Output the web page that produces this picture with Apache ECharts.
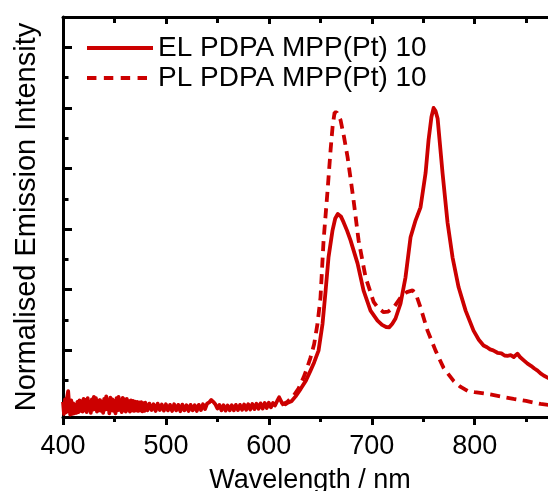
<!DOCTYPE html>
<html>
<head>
<meta charset="utf-8">
<script src="https://cdn.jsdelivr.net/npm/echarts@6/dist/echarts.min.js"></script>
<style>
html,body{margin:0;padding:0;background:#fff;}
#chart{width:548px;height:491px;}
</style>
</head>
<body>
<div id="chart"></div>
<script>
const elWavelength = [400,401,402,403,404,405,406,407,408,409,410,411,412,413,414,415,416,417,418,419,420,421,422,423,424,425,426,427,428,429,430,431,432,433,434,435,436,437,438,439,440,441,442,443,444,445,446,447,448,449,450,451,452,453,454,455,456,457,458,459,460,461,462,463,464,465,466,467,468,469,470,471,472,473,474,475,476,477,478,479,480,482,484,486,488,490,492,494,496,498,500,502,504,506,508,510,512,514,516,518,520,522,524,526,528,530,532,534,536,538,540,542,544,546,548,550,552,554,556,558,560,562,564,566,568,570,572,574,576,578,580,582,584,586,588,590,592,594,596,598,600,602,604,606,608,610,611,613,616,619,622,626,631,636,640.5,644,648.3,652.2,655.2,658,661.9,664.5,667,670,672.6,676,679.4,686.2,692,698.8,705.6,710,714,717,720,723.1,728,732.8,737.7,742.6,747.4,752.3,755.2,758,760.1,762,764,768.8,773.7,778.5,784.4,791.2,798.9,804,808.6,812,815,818,822.2,826,829,831.9,835,838,841.6,844,848,851.4,855,858,861.1,864,867,870.8,875,880];
const elIntensity = [
  0.03,-0.01,0.038,-0.005,0.045,0.065,0.02,-0.012,0.035,-0.01,
  0.025,-0.008,0.02,-0.006,0.03,-0.004,0.035,0.0,0.032,-0.002,
  0.04,0.002,0.036,-0.004,0.042,0.004,0.03,-0.006,0.038,0.004,
  0.046,0.006,0.042,-0.002,0.034,0.002,0.036,0.0,0.03,-0.006,
  0.04,0.004,0.048,0.006,0.036,-0.008,0.044,0.002,0.038,0.0,
  0.032,-0.008,0.042,0.002,0.046,0.004,0.036,-0.004,0.043,0.002,
  0.038,-0.002,0.04,0.004,0.032,-0.002,0.035,0.002,0.033,0.0,
  0.031,0.002,0.03,0.0,0.028,0.002,0.029,-0.001,0.026,0.0,
  0.027,
  0.002,0.024,0.003,0.022,0.0,0.024,0.003,0.021,0.001,0.022,
  0.002,0.02,0.0,0.022,0.002,0.02,-0.001,0.021,0.002,0.019,
  0.0,0.02,0.002,0.019,0.0,0.02,0.003,0.022,0.006,0.024,
  0.028,0.036,0.03,0.022,0.008,0.02,0.002,0.019,0.001,0.018,
  0.002,0.019,0.002,0.02,0.003,0.02,0.004,0.021,0.004,0.022,
  0.005,0.023,0.006,0.024,0.007,0.025,0.008,0.026,0.01,0.027,
  0.012,0.026,0.018,0.032,0.045,
  0.05,0.025,0.022,0.028,0.032,0.048,0.073,0.1,0.133,0.16,0.199,0.288,0.398,0.507,0.596,0.635,0.65,0.642,0.623,0.595,0.563,0.487,0.398,0.331,0.298,0.284,0.277,0.276,0.288,0.305,0.355,0.441,0.573,0.629,0.672,0.785,0.894,0.97,1.0,0.99,0.965,0.785,0.62,0.507,0.408,0.331,0.265,0.235,0.216,0.21,0.203,0.2,0.192,0.19,0.183,0.182,0.184,0.178,0.189,0.178,0.166,0.156,0.148,0.14,0.133,0.124,0.117,0.11,0.102,0.094];

const plWavelength = [612,618,624,629,633.7,637,640.5,644,647.3,650.2,653.2,657.1,660,662,663.9,666,669.7,673,676.5,682.3,687.2,694,701.8,706,711.5,716,721.2,728,734,739.7,743,747.4,754.2,762,769.8,779.5,786,793.1,800,812.5,825,837.8,850,864,872,880];
const plIntensity = [0.02,0.03,0.05,0.075,0.11,0.14,0.176,0.22,0.288,0.374,0.563,0.729,0.861,0.94,0.985,0.985,0.96,0.905,0.838,0.696,0.563,0.441,0.36,0.34,0.326,0.328,0.341,0.374,0.392,0.398,0.385,0.341,0.265,0.199,0.142,0.099,0.08,0.066,0.062,0.056,0.048,0.04,0.033,0.023,0.02,0.018];

const xMajorTicks = [400,500,600,700,800];
const xMinorTicks = [450,550,650,750,850];
const yMajorTicks = [0,0.2,0.4,0.6,0.8,1.0,1.2];
const yMinorTicks = [0.1,0.3,0.5,0.7,0.9,1.1];
const seriesNames = ['EL PDPA MPP(Pt) 10','PL PDPA MPP(Pt) 10'];

const RED = '#cc0000';
const FONT = 'Liberation Sans, Arial, sans-serif';

const chart = echarts.init(document.getElementById('chart'), null, {renderer:'canvas'});
const zip = (a,b) => a.map((v,i)=>[v,b[i]]);
const tickStyle = {color:'#000', width:3};

function xAx(position, showLine, ticks, len, inside, extra){
  return Object.assign({
    type:'value', min:400, max:880, position:position,
    splitLine:{show:false},
    axisLine:{show:showLine, onZero:false, lineStyle:{color:'#000', width:3}},
    axisTick:{show:true, inside:inside, length:len, customValues:ticks, lineStyle:tickStyle},
    axisLabel:{show:false}
  }, extra || {});
}
function yAx(showLine, ticks, len, extra){
  return Object.assign({
    type:'value', min:-0.02, max:1.3, position:'left',
    splitLine:{show:false},
    axisLine:{show:showLine, onZero:false, lineStyle:{color:'#000', width:3}},
    axisTick:{show:true, inside:true, length:len, customValues:ticks, lineStyle:tickStyle},
    axisLabel:{show:false}
  }, extra || {});
}

chart.setOption({
  animation:false,
  backgroundColor:'#fff',
  grid:{left:63, right:-9, top:17, bottom:74, containLabel:false, outerBoundsMode:'none'},
  legend:{
    orient:'vertical', left:87, top:34, padding:0, itemGap:2,
    itemWidth:66, itemHeight:4, symbolKeepAspect:false,
    itemStyle:{borderWidth:0, color:RED},
    textStyle:{fontSize:28, fontFamily:FONT, color:'#000', lineHeight:28},
    data:[
      {name:seriesNames[0], icon:'path://M0,0H65V4H0Z'},
      {name:seriesNames[1], icon:'path://M0,0H9.3V4H0Z M16.6,0H25.9V4H16.6Z M33.2,0H42.5V4H33.2Z M49.8,0H59.1V4H49.8Z M64.9,1.9H65V2.1H64.9Z'}
    ]
  },
  xAxis:[
    xAx('bottom', true, xMajorTicks, 8, false, {
      axisLabel:{show:true, customValues:xMajorTicks, margin:16, fontSize:27, fontFamily:FONT, color:'#000'},
      name:'Wavelength / nm', nameLocation:'middle', nameGap:50,
      nameTextStyle:{fontSize:27, fontFamily:FONT, color:'#000'}
    }),
    xAx('bottom', false, xMinorTicks, 5, false),
    xAx('top', true, xMajorTicks, 7, true),
    xAx('top', false, xMinorTicks, 6, true)
  ],
  yAxis:[
    yAx(true, yMajorTicks, 9, {
      name:'Normalised Emission Intensity', nameLocation:'middle', nameGap:22, nameRotate:90,
      nameTextStyle:{fontSize:29, fontFamily:FONT, color:'#000'}
    }),
    yAx(false, yMinorTicks, 5.5)
  ],
  series:[
    {
      name:seriesNames[0], type:'line', xAxisIndex:0, yAxisIndex:0,
      data:zip(elWavelength, elIntensity), symbol:'none', showSymbol:false,
      color:RED, itemStyle:{color:RED}, lineStyle:{color:RED, width:3.8, join:'round'}, z:3
    },
    {
      name:seriesNames[1], type:'line', xAxisIndex:0, yAxisIndex:0,
      data:zip(plWavelength, plIntensity), symbol:'none', showSymbol:false,
      color:RED, itemStyle:{color:RED}, lineStyle:{color:RED, width:3.8, type:[10,6.5], cap:'butt'}, z:2
    }
  ]
});
</script>
</body>
</html>
